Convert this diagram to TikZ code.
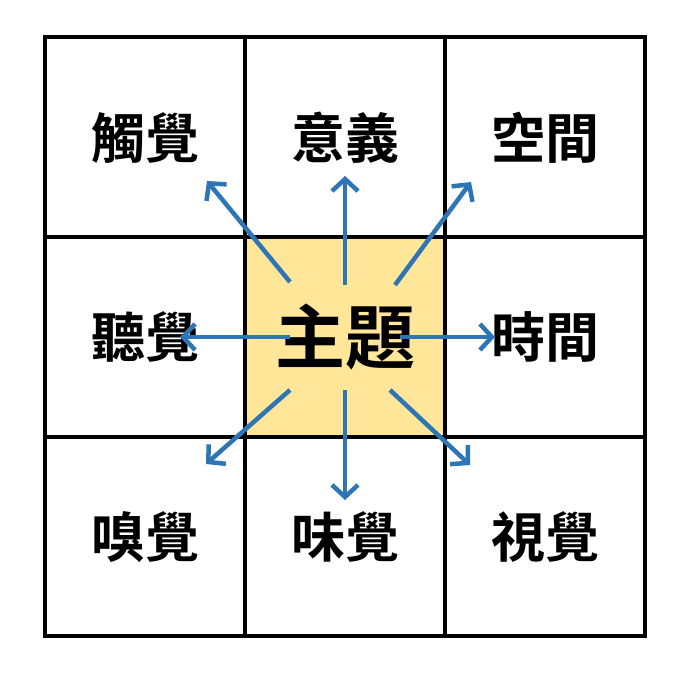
\documentclass[tikz,border=0pt]{standalone}
\usepackage{fontspec}
\newfontfamily\cjk{Noto Sans CJK TC Bold}
\usetikzlibrary{arrows.meta}
\definecolor{arr}{HTML}{2E75B6}
\definecolor{cen}{HTML}{FFE699}
\tikzset{lbl/.style={font=\cjk\fontsize{54}{58}\selectfont},
 ar/.style={draw=arr,line width=4.5pt,-{Straight Barb[length=12pt,width=26pt,line width=4.5pt]}}}
\begin{document}
\begin{tikzpicture}[x=1pt,y=-1pt]
\useasboundingbox (0,0) rectangle (688,673);
\fill[cen] (245,237) rectangle (445,437);
\draw[line width=4pt] (45,37) rectangle (645,636) (245,37)--(245,636) (445,37)--(445,636) (45,237)--(645,237) (45,437)--(645,437);
\node[lbl] (a) at (145,138) {觸覺};
\node[lbl] (b) at (345,138) {意義};
\node[lbl] (c) at (545,138) {空間};
\node[lbl] (d) at (145,337) {聽覺};
\node[lbl,font=\cjk\fontsize{70}{74}\selectfont] (m) at (345,337) {主題};
\node[lbl] (f) at (545,337) {時間};
\node[lbl] (g) at (145,537) {嗅覺};
\node[lbl] (h) at (345,537) {味覺};
\node[lbl] (i) at (545,537) {視覺};
\coordinate (u0) at (345,285); \coordinate (u1) at (345,176);
\coordinate (d0) at (345,390); \coordinate (d1) at (345,500);
\coordinate (l0) at (290,337); \coordinate (l1) at (180,337);
\coordinate (r0) at (400,337); \coordinate (r1) at (495,337);
\coordinate (nw0) at (290,282); \coordinate (nw1) at (207,181);
\coordinate (ne0) at (395,285); \coordinate (ne1) at (471,182);
\coordinate (sw0) at (290,390); \coordinate (sw1) at (206,464);
\coordinate (se0) at (390,390); \coordinate (se1) at (470,465);
\foreach \p in {u,d,l,r,nw,ne,sw,se} \draw[ar] (\p0)--(\p1);
\end{tikzpicture}
\end{document}
